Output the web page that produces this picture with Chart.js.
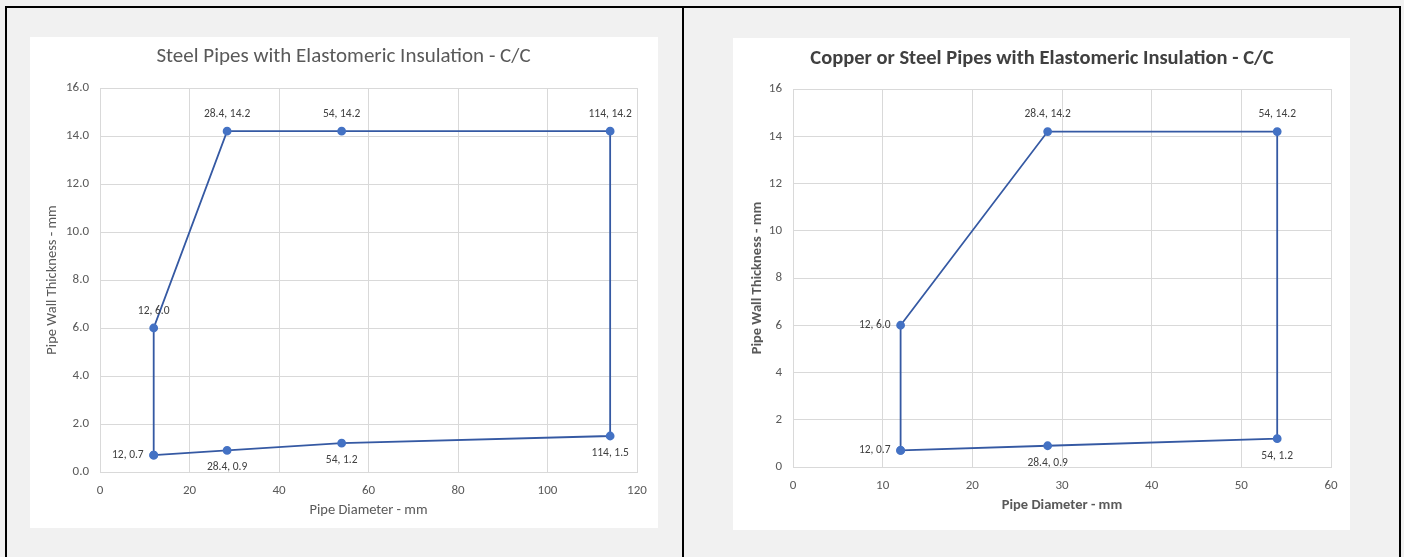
<!DOCTYPE html>
<html>
<head>
<meta charset="utf-8">
<script src="https://cdn.jsdelivr.net/npm/chart.js@4.4.1/dist/chart.umd.min.js"></script>
<style>
  html, body { margin: 0; padding: 0; }
  body { width: 1404px; height: 557px; background: #f1f1f1; position: relative; overflow: hidden; }
  .rule { position: absolute; background: #000; }
  .box { position: absolute; background: #fff; }
  canvas { display: block; }
</style>
</head>
<body>
<div class="rule" style="left:5px;top:6px;width:1396px;height:2px"></div>
<div class="rule" style="left:5px;top:6px;width:2px;height:551px"></div>
<div class="rule" style="left:682px;top:6px;width:2px;height:551px"></div>
<div class="rule" style="left:1399px;top:6px;width:2px;height:551px"></div>

<div class="box" style="left:30px;top:37px;width:628px;height:491px">
  <canvas id="steelChart" width="628" height="491"></canvas>
</div>
<div class="box" style="left:733px;top:38px;width:617px;height:492px">
  <canvas id="copperChart" width="617" height="492"></canvas>
</div>

<script>
// steel pipes (left chart), closed outline
const steelDiameter = [12, 12, 28.4, 54, 114, 114, 54, 28.4, 12];
const steelThickness = [0.7, 6.0, 14.2, 14.2, 14.2, 1.5, 1.2, 0.9, 0.7];
const steelLabelSide = ['left', 'above', 'above', 'above', 'above', 'below', 'below', 'below', null];
const steelXTicks = [0, 20, 40, 60, 80, 100, 120];
const steelYTicks = [0, 2, 4, 6, 8, 10, 12, 14, 16];

// copper or steel pipes (right chart)
const copperDiameter = [12, 12, 28.4, 54, 54, 28.4, 12];
const copperThickness = [0.7, 6.0, 14.2, 14.2, 1.2, 0.9, 0.7];
const copperLabelSide = ['left', 'left', 'above', 'above', 'below', 'below', null];
const copperXTicks = [0, 10, 20, 30, 40, 50, 60];
const copperYTicks = [0, 2, 4, 6, 8, 10, 12, 14, 16];

const FONT = "Carlito, Calibri, 'Liberation Sans', sans-serif";
Chart.defaults.font.family = FONT;
Chart.defaults.color = '#595959';

const pointLabels = {
    id: 'pointLabels',
    afterDatasetsDraw(chart, args, opts) {
        const ctx = chart.ctx;
        const pts = chart.data.datasets[0].data;
        const meta = chart.getDatasetMeta(0);
        ctx.save();
        ctx.font = opts.size + 'px ' + FONT;
        ctx.fillStyle = '#404040';
        ctx.textBaseline = 'middle';
        meta.data.forEach((el, i) => {
            const side = opts.sides[i];
            if (!side) return;
            const text = pts[i].x + ', ' + pts[i].y.toFixed(1);
            let x = el.x, y = el.y;
            if (side === 'above') { ctx.textAlign = 'center'; y -= opts.gapV; }
            else if (side === 'below') { ctx.textAlign = 'center'; y += opts.gapV; }
            else { ctx.textAlign = 'right'; x -= opts.gapH; }
            ctx.fillText(text, x, y);
        });
        ctx.restore();
    }
};

function makeChart(id, xs, ys, sides, xTicks, yTicks, cfg) {
    const pts = xs.map((x, i) => ({ x: x, y: ys[i] }));
    const ctx = document.getElementById(id).getContext('2d');
    // left padding pushes the chart title right; y axis shrinks by the same amount
    const padLeft = 20;
    return new Chart(ctx, {
        type: 'scatter',
        data: {
            datasets: [{
                data: pts,
                showLine: true,
                borderColor: '#3559A3',
                borderWidth: 1.8,
                backgroundColor: '#4472C4',
                pointBackgroundColor: '#4472C4',
                pointBorderColor: '#4472C4',
                pointRadius: 3.5,
                tension: 0
            }]
        },
        options: {
            responsive: false,
            animation: false,
            layout: { padding: { left: padLeft, right: cfg.padRight, top: 0, bottom: 0 } },
            scales: {
                x: {
                    type: 'linear',
                    min: xTicks[0],
                    max: xTicks[xTicks.length - 1],
                    afterBuildTicks: s => { s.ticks = xTicks.map(v => ({ value: v })); },
                    afterFit: s => { s.height = cfg.xAxisH; },
                    grid: { color: '#d9d9d9', drawTicks: false },
                    border: { color: '#d9d9d9' },
                    ticks: { padding: 11, font: { size: 13 }, color: '#595959' },
                    title: {
                        display: true,
                        text: 'Pipe Diameter - mm',
                        font: { size: 14.5, weight: cfg.axisBold ? 'bold' : 'normal' },
                        color: '#595959',
                        padding: { top: 0, bottom: cfg.xTitlePad }
                    }
                },
                y: {
                    type: 'linear',
                    min: yTicks[0],
                    max: yTicks[yTicks.length - 1],
                    afterBuildTicks: s => { s.ticks = yTicks.map(v => ({ value: v })); },
                    afterFit: s => { s.width = cfg.yAxisW - padLeft; },
                    grid: { color: '#d9d9d9', drawTicks: false },
                    border: { color: '#d9d9d9' },
                    ticks: {
                        padding: 11,
                        font: { size: 13 },
                        color: '#595959',
                        callback: v => cfg.yDecimals ? v.toFixed(1) : String(v)
                    },
                    title: {
                        display: true,
                        text: 'Pipe Wall Thickness - mm',
                        font: { size: 14.5, weight: cfg.axisBold ? 'bold' : 'normal' },
                        color: '#595959',
                        padding: { top: cfg.yTitlePad - padLeft, bottom: 0 }
                    }
                }
            },
            plugins: {
                legend: { display: false },
                tooltip: { enabled: false },
                title: {
                    display: true,
                    text: cfg.title,
                    color: cfg.titleColor,
                    font: { size: cfg.titleSize, weight: cfg.axisBold ? 'bold' : 'normal' },
                    padding: { top: cfg.titleTop, bottom: cfg.titleBottom }
                },
                pointLabels: { sides: sides, size: 11.5, gapV: 17, gapH: 10 }
            }
        },
        plugins: [pointLabels]
    });
}

makeChart('steelChart', steelDiameter, steelThickness, steelLabelSide, steelXTicks, steelYTicks, {
    title: 'Steel Pipes with Elastomeric Insulation - C/C',
    titleColor: '#595959', titleSize: 21, titleTop: 7.4, titleBottom: 18.4,
    axisBold: false, yDecimals: true,
    padRight: 21, yAxisW: 70, xAxisH: 56, xTitlePad: 9.3, yTitlePad: 13.3
});

makeChart('copperChart', copperDiameter, copperThickness, copperLabelSide, copperXTicks, copperYTicks, {
    title: 'Copper or Steel Pipes with Elastomeric Insulation - C/C',
    titleColor: '#404040', titleSize: 20.5, titleTop: 8.7, titleBottom: 17.7,
    axisBold: true, yDecimals: false,
    padRight: 19, yAxisW: 60, xAxisH: 63, xTitlePad: 16.3, yTitlePad: 15.3
});
</script>
</body>
</html>
